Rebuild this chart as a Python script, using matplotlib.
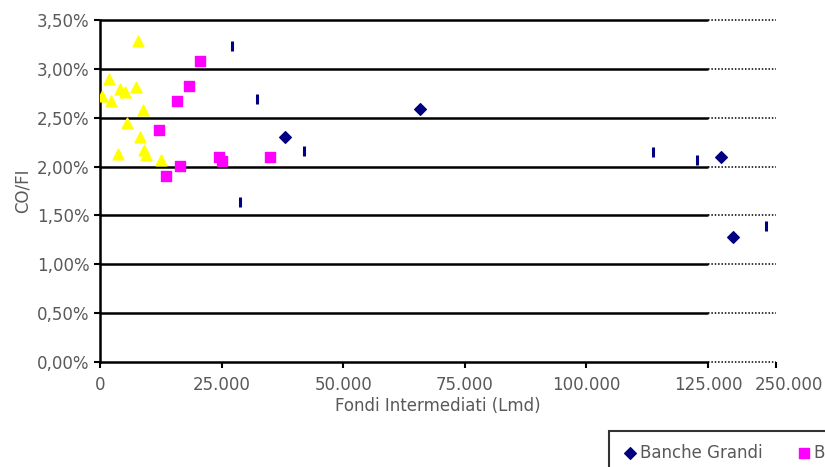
import numpy as np
import matplotlib.pyplot as plt
import matplotlib.transforms as mtransforms

# Banche Grandi (diamonds)
grandi_x = [38000, 65800, 148300, 171600]
grandi_y = [2.30, 2.59, 2.10, 1.28]
# Banche Medie (squares)
medie_x = [20500, 18200, 15800, 12100, 24500, 25100, 35000, 16400, 13500]
medie_y = [3.08, 2.82, 2.67, 2.37, 2.10, 2.06, 2.10, 2.01, 1.90]
# Banche Piccole (triangles)
piccole_x = [500, 1800, 2300, 4200, 5100, 7500, 7900, 8800, 5500, 8200, 9000, 9500, 3700, 12500]
piccole_y = [2.72, 2.90, 2.67, 2.79, 2.76, 2.81, 3.28, 2.58, 2.45, 2.30, 2.17, 2.12, 2.13, 2.07]
# other series (dash markers)
altre_x = [27200, 32200, 42000, 28800, 113700, 122700, 231000]
altre_y = [3.23, 2.69, 2.16, 1.64, 2.15, 2.07, 1.39]

x_ticks = [0, 25000, 50000, 75000, 100000, 125000, 250000]
y_ticks = [0, 0.5, 1.0, 1.5, 2.0, 2.5, 3.0, 3.5]

BREAK = 125000
K = 0.1118  # compression of the 125.000-250.000 segment


def fwd(x):
    x = np.asarray(x, dtype=float)
    return np.where(x <= BREAK, x, BREAK + (x - BREAK) * K)


def inv(x):
    x = np.asarray(x, dtype=float)
    return np.where(x <= BREAK, x, BREAK + (x - BREAK) / K)


plt.rcParams['font.family'] = ['DejaVu Sans']
grey = '#595959'

fig = plt.figure(figsize=(8.25, 4.67), dpi=100)
ax = fig.add_axes([100 / 825, 1 - 362 / 467, 676 / 825, 342 / 467])
ax.set_xscale('function', functions=(fwd, inv))
ax.set_xlim(0, 250000)
ax.set_ylim(0, 3.5)

# gridlines: solid up to the break, dotted afterwards
for yv in y_ticks:
    ax.plot([0, BREAK], [yv, yv], color='black', lw=1.8, zorder=1,
            solid_capstyle='butt', clip_on=False)
    ax.plot([BREAK, 250000], [yv, yv], color='black', lw=1.1, ls=(0, (1, 1.2)),
            zorder=1, clip_on=False)

ax.scatter(piccole_x, piccole_y, marker='^', s=60, color='#FFFF00', zorder=3, label='Banche Piccole')
ax.scatter(medie_x, medie_y, marker='s', s=55, color='#FF00FF', zorder=3, label='Banche Medie')
ax.scatter(grandi_x, grandi_y, marker='D', s=35, color='#000080', zorder=4, label='Banche Grandi')
ax.scatter(altre_x, altre_y, marker='|', s=55, linewidths=2.2, color='#000080', zorder=4, label='Altre Banche')

for side in ['top', 'right', 'bottom']:
    ax.spines[side].set_visible(False)
ax.spines['left'].set_linewidth(1.8)
ax.spines['left'].set_color('black')

ax.set_xticks(x_ticks)
ax.set_xticklabels([f"{v:,}".replace(',', '.') for v in x_ticks])
ax.set_yticks(y_ticks)
ax.set_yticklabels([f"{v:.2f}%".replace('.', ',') for v in y_ticks])
ax.tick_params(axis='both', colors='black', labelcolor=grey, labelsize=12, width=1.5, length=4)
ax.tick_params(axis='x', pad=6)

# shift last tick label right as in the original
offset = mtransforms.ScaledTranslation(13 / 100, 0, fig.dpi_scale_trans)
lbl = ax.get_xticklabels()[-1]
lbl.set_transform(lbl.get_transform() + offset)

ax.set_xlabel('Fondi Intermediati (Lmd)', color=grey, fontsize=12, labelpad=2)
ax.set_ylabel('CO/FI', color=grey, fontsize=12, labelpad=4)

handles, labels = ax.get_legend_handles_labels()
order = [2, 1, 0, 3]
leg = fig.legend([handles[i] for i in order], [labels[i] for i in order],
                 loc='upper left', bbox_to_anchor=(609 / 825, 1 - 431 / 467), ncol=4,
                 frameon=True, fancybox=False, edgecolor='black', fontsize=12,
                 handletextpad=0.1, columnspacing=2.0, handlelength=1.0, borderpad=0.75,
                 borderaxespad=0)
leg.get_frame().set_linewidth(1.5)
for t in leg.get_texts():
    t.set_color(grey)

fig.savefig('out.png', dpi=100)
